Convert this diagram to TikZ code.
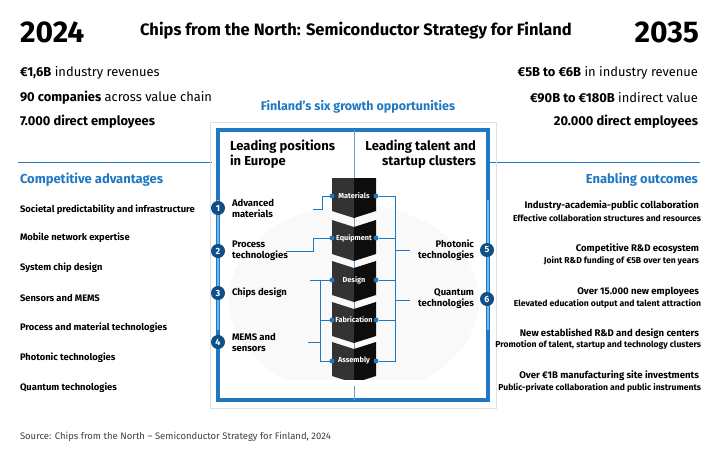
\documentclass[tikz,border=0pt]{standalone}
\usepackage{fontspec}
\setmainfont{Fira Sans}
\begin{document}
\begin{tikzpicture}[x=1pt,y=-1pt,
  every node/.style={inner sep=0pt,outer sep=0pt},
  blu/.style={color=bl},
  item/.style={anchor=west,font=\fontsize{9.4}{10}\selectfont\bfseries},
  outa/.style={anchor=east,font=\fontsize{9.6}{10}\selectfont\bfseries},
  outb/.style={anchor=east,font=\fontsize{8.6}{9}\selectfont\bfseries},
  stat/.style={font=\fontsize{12.9}{14}\selectfont},
  num/.style={circle,fill=bd,text=white,minimum size=14pt,font=\fontsize{9}{10}\selectfont\bfseries},
  lab/.style={font=\fontsize{9.5}{11}\selectfont\bfseries,align=left},
  dot/.style={circle,fill=bl,minimum size=5pt},
  conn/.style={draw=bl,line width=0.8pt},
  seg/.style={font=\fontsize{7.3}{8}\selectfont\bfseries,text=white}]
\definecolor{bl}{HTML}{1F78C1}
\definecolor{bd}{HTML}{0E4F86}
\definecolor{lb}{HTML}{6CB8F0}
\useasboundingbox (0,0) rectangle (717,450);
% header
\node[anchor=west,font=\fontsize{30}{32}\selectfont\bfseries] (y1) at (20,32) {2024};
\node[anchor=east,font=\fontsize{30}{32}\selectfont\bfseries] (y2) at (699,32) {2035};
\node[font=\fontsize{16.5}{18}\selectfont\bfseries] (title) at (356,31) {Chips from the North: Semiconductor Strategy for Finland};
\node[stat,anchor=west] (s1) at (20,73) {\textbf{€1,6B} industry revenues};
\node[stat,anchor=west] (s2) at (20,98) {\textbf{90 companies} across value chain};
\node[stat,anchor=west,font=\fontsize{12.9}{14}\selectfont\bfseries] (s3) at (20,122) {7.000 direct employees};
\node[stat,anchor=east] (r1) at (698,73) {\textbf{€5B to €6B} in industry revenue};
\node[stat,anchor=east] (r2) at (698,98) {\textbf{€90B to €180B} indirect value};
\node[stat,anchor=east,font=\fontsize{12.9}{14}\selectfont\bfseries] (r3) at (698,122) {20.000 direct employees};
\node[blu,font=\fontsize{12.5}{14}\selectfont\bfseries] (six) at (358,107) {Finland’s six growth opportunities};
% divider lines
\coordinate (l0) at (18,162); \coordinate (l1) at (212,162);
\coordinate (r0) at (490,162); \coordinate (rr) at (700,162);
\draw[bl,line width=0.8pt] (l0) -- (l1);
\draw[bl,line width=0.8pt] (r0) -- (rr);
% frame
\draw[gray!25,line width=0.6pt] (210,122) rectangle (496,408);
\begin{scope}
\clip (218,130) rectangle (488,400);
\fill[white!95!gray] (354,300) ellipse (125pt and 95pt);
\fill[white] (216,380) rectangle (492,400);
\end{scope}
\draw[bl,line width=4.5pt] (218,130) rectangle (488,400);
\draw[lb,line width=1.5pt] (218,200) -- (218,330) (488,200) -- (488,330);
\draw[bl!70,line width=0.8pt] (354,130) -- (354,400);
\node[anchor=north west,font=\fontsize{13}{15}\selectfont\bfseries,align=left] (hl) at (230,140) {Leading positions\\in Europe};
\node[anchor=north east,font=\fontsize{13}{15}\selectfont\bfseries,align=right] (hr) at (476,140) {Leading talent and\\startup clusters};
% chevrons
\foreach \t [count=\i] in {178,220,261,302,342}{
  \ifnum\i=1
    \fill[black!80] (332,\t) -- (354,\t) -- (354,\t+40) -- (332,\t+33) -- cycle;
    \fill[black!95] (354,\t) -- (376,\t) -- (376,\t+33) -- (354,\t+40) -- cycle;
  \else
    \fill[black!80] (332,\t) -- (354,\t+7) -- (354,\t+41) -- (332,\t+34) -- cycle;
    \fill[black!95] (354,\t+7) -- (376,\t) -- (376,\t+34) -- (354,\t+41) -- cycle;
  \fi
}
\fill[white] (330,380) rectangle (378,386);
\node[seg] (cm) at (354,196) {Materials};
\node[seg] (ce) at (354,238) {Equipment};
\node[seg] (cd) at (354,280) {Design};
\node[seg] (cf) at (354,320) {Fabrication};
\node[seg] (ca) at (354,361) {Assembly};
\foreach \y/\k in {196/m,238/e,280/d,320/f,361/a}{
  \node[dot] (L\k) at (332,\y) {};
  \node[dot] (R\k) at (376,\y) {};
}
% numbers and labels
\node[num] (n1) at (218,208) {1};
\node[num] (n2) at (218,251) {2};
\node[num] (n3) at (218,293) {3};
\node[num] (n4) at (218,342) {4};
\node[num] (n5) at (487,250) {5};
\node[num] (n6) at (487,299) {6};
\node[lab,anchor=west] (t1) at (232,208) {Advanced\\materials};
\node[lab,anchor=west] (t2) at (232,251) {Process\\technologies};
\node[lab,anchor=west] (t3) at (232,293) {Chips design};
\node[lab,anchor=west] (t4) at (232,342) {MEMS and\\sensors};
\node[lab,anchor=east,align=right] (t5) at (474,250) {Photonic\\technologies};
\node[lab,anchor=east,align=right] (t6) at (474,299) {Quantum\\technologies};
% connectors left
\coordinate (a1) at (313,209); \coordinate (a2) at (286,251);
\coordinate (a3) at (310,280); \coordinate (a4) at (308,342);
\draw[conn] (a1) -- (322,209) |- (Lm);
\draw[conn] (a2) -- (313,251) |- (Le);
\draw[conn] (a3) -- (Ld);
\draw[conn] (320,280) |- (La);
\draw[conn] (320,320) -- (Lf);
\draw[conn] (a4) -- (320,342);
% connectors right
\coordinate (b5) at (410,250); \coordinate (b6) at (410,300);
\draw[conn] (Rm) -- (395,196) |- (Ra);
\foreach \k in {e,d,f}{\draw[conn] (R\k) -- (395,0 |- R\k);}
\draw[conn] (395,250) -- (b5);
\draw[conn] (395,300) -- (b6);
% left list
\node[blu,anchor=west,font=\fontsize{13}{15}\selectfont\bfseries] (ca0) at (20,180) {Competitive advantages};
\foreach \y/\s [count=\i] in {210/Societal predictability and infrastructure,238/Mobile network expertise,268/System chip design,298/Sensors and MEMS,328/Process and material technologies,358/Photonic technologies,388/Quantum technologies}
  \node[item] (ca\i) at (20,\y) {\s};
% right list
\node[blu,anchor=east,font=\fontsize{13}{15}\selectfont\bfseries] (eo) at (698,180) {Enabling outcomes};
\node[outa] (o1) at (699,206) {Industry-academia-public collaboration};
\node[outb] (p1) at (701,218) {Effective collaboration structures and resources};
\node[outa] (o2) at (699,249) {Competitive R\&D ecosystem};
\node[outb] (p2) at (699,261) {Joint R\&D funding of €5B over ten years};
\node[outa] (o3) at (699,292) {Over 15.000 new employees};
\node[outb] (p3) at (701,304) {Elevated education output and talent attraction};
\node[outa] (o4) at (699,334) {New established R\&D and design centers};
\node[outb] (p4) at (701,345) {Promotion of talent, startup and technology clusters};
\node[outa] (o5) at (699,376) {Over €1B manufacturing site investments};
\node[outb] (p5) at (701,388) {Public-private collaboration and public instruments};
\node[anchor=west,font=\fontsize{9.5}{10}\selectfont,text=black!75] (src) at (20,437) {Source: Chips from the North – Semiconductor Strategy for Finland, 2024};
\end{tikzpicture}
\end{document}
